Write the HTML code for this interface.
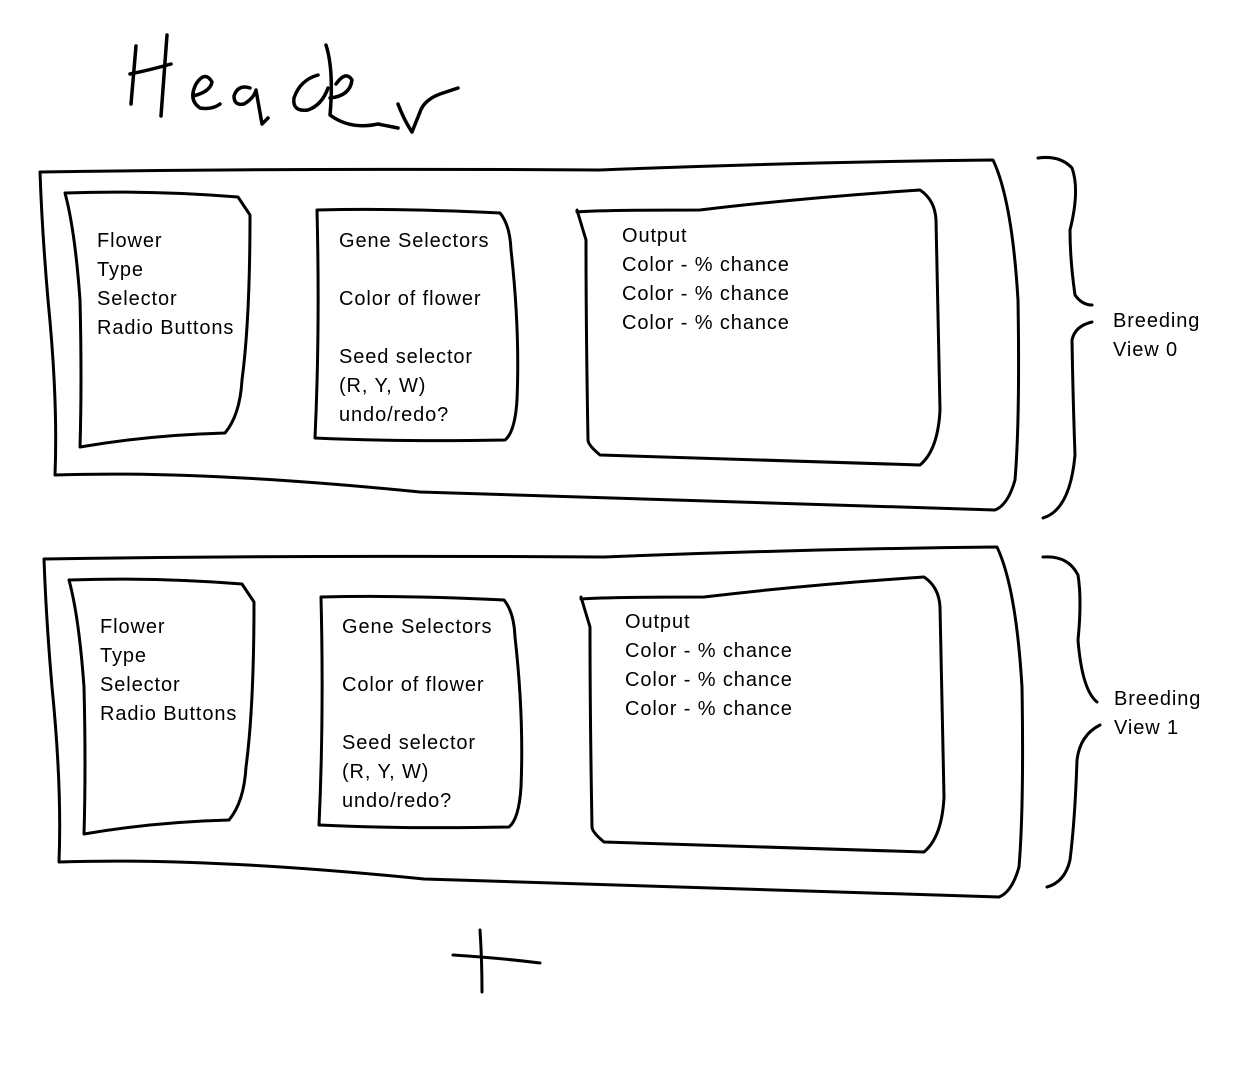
<!DOCTYPE html>
<html><head><style>
html,body{margin:0;padding:0;background:#fff;}
svg{display:block}
text{font-family:"Liberation Sans",sans-serif;font-size:20px;fill:#000;letter-spacing:0.9px;}
</style></head><body>
<svg width="1237" height="1065" viewBox="0 0 1237 1065" xmlns="http://www.w3.org/2000/svg">
<g fill="none" stroke="#000" stroke-width="3" stroke-linecap="round" stroke-linejoin="round">
<g stroke-width="3.5">
<path d="M136 46 L131 104"/>
<path d="M167 35 L161 116"/>
<path d="M130 74 Q150 70 171 64"/>
<path d="M193 96 Q210 92 212 82 Q205 70 196 84 Q188 100 200 108 Q212 110 220 104"/>
<path d="M250 88 Q238 84 234 96 Q234 106 244 104 Q254 98 256 90 L262 124 L268 118"/>
<path d="M318 75 Q300 80 294 98 Q292 112 308 110 Q322 105 328 88"/>
<path d="M326 45 Q334 70 330 115 Q350 130 378 124 L398 128"/>
<path d="M330 98 Q350 96 352 80 Q346 70 336 84"/>
<path d="M398 104 Q404 120 412 132 L420 112 Q424 100 440 94 L458 88"/>
</g>
<path d="M40 172 Q300 168 600 170 Q800 162 993 160 Q1012 200 1018 300 Q1020 420 1015 480 Q1008 505 995 510 Q700 500 420 492 Q200 470 55 475 Q58 400 48 300 Q42 230 40 172 Z"/>
<path d="M65 193 Q150 190 238 197 L250 215 Q250 320 242 380 Q240 415 225 433 Q150 435 80 447 Q82 380 80 300 Q75 230 65 193 Z"/>
<path d="M317 210 Q400 208 500 213 Q510 225 511 250 Q520 330 517 400 Q515 432 505 440 Q400 442 315 438 Q320 330 317 210 Z"/>
<path d="M577 212 Q600 210 700 210 Q800 198 920 190 Q935 200 936 220 Q938 320 940 410 Q938 450 920 465 Q750 460 600 455 Q588 445 588 440 Q586 330 586 240 L577 210 Z"/>
<path d="M1038 158 Q1060 155 1072 168 Q1080 190 1070 230 Q1070 260 1075 295 Q1082 305 1092 305"/>
<path d="M1092 322 Q1075 326 1072 340 Q1073 400 1075 455 Q1070 510 1043 518"/>
<g transform="translate(4,387)">
<path d="M40 172 Q300 168 600 170 Q800 162 993 160 Q1012 200 1018 300 Q1020 420 1015 480 Q1008 505 995 510 Q700 500 420 492 Q200 470 55 475 Q58 400 48 300 Q42 230 40 172 Z"/>
<path d="M65 193 Q150 190 238 197 L250 215 Q250 320 242 380 Q240 415 225 433 Q150 435 80 447 Q82 380 80 300 Q75 230 65 193 Z"/>
<path d="M317 210 Q400 208 500 213 Q510 225 511 250 Q520 330 517 400 Q515 432 505 440 Q400 442 315 438 Q320 330 317 210 Z"/>
<path d="M577 212 Q600 210 700 210 Q800 198 920 190 Q935 200 936 220 Q938 320 940 410 Q938 450 920 465 Q750 460 600 455 Q588 445 588 440 Q586 330 586 240 L577 210 Z"/>
</g>
<path d="M1043 557 Q1068 555 1078 575 Q1082 600 1078 640 Q1082 690 1097 702"/>
<path d="M1100 725 Q1080 735 1077 760 Q1075 820 1070 860 Q1065 882 1047 887"/>
<path d="M480 930 Q482 960 482 992"/>
<path d="M453 955 Q500 958 540 963"/>
</g>
<g>
<text x="97" y="247">Flower</text>
<text x="97" y="276">Type</text>
<text x="97" y="305">Selector</text>
<text x="97" y="334">Radio Buttons</text>
<text x="339" y="247">Gene Selectors</text>
<text x="339" y="305">Color of flower</text>
<text x="339" y="363">Seed selector</text>
<text x="339" y="392">(R, Y, W)</text>
<text x="339" y="421">undo/redo?</text>
<text x="622" y="242">Output</text>
<text x="622" y="271">Color - % chance</text>
<text x="622" y="300">Color - % chance</text>
<text x="622" y="329">Color - % chance</text>
<text x="1113" y="327">Breeding</text>
<text x="1113" y="356">View 0</text>
<text x="100" y="633">Flower</text>
<text x="100" y="662">Type</text>
<text x="100" y="691">Selector</text>
<text x="100" y="720">Radio Buttons</text>
<text x="342" y="633">Gene Selectors</text>
<text x="342" y="691">Color of flower</text>
<text x="342" y="749">Seed selector</text>
<text x="342" y="778">(R, Y, W)</text>
<text x="342" y="807">undo/redo?</text>
<text x="625" y="628">Output</text>
<text x="625" y="657">Color - % chance</text>
<text x="625" y="686">Color - % chance</text>
<text x="625" y="715">Color - % chance</text>
<text x="1114" y="705">Breeding</text>
<text x="1114" y="734">View 1</text>
</g>
</svg>
</body></html>
